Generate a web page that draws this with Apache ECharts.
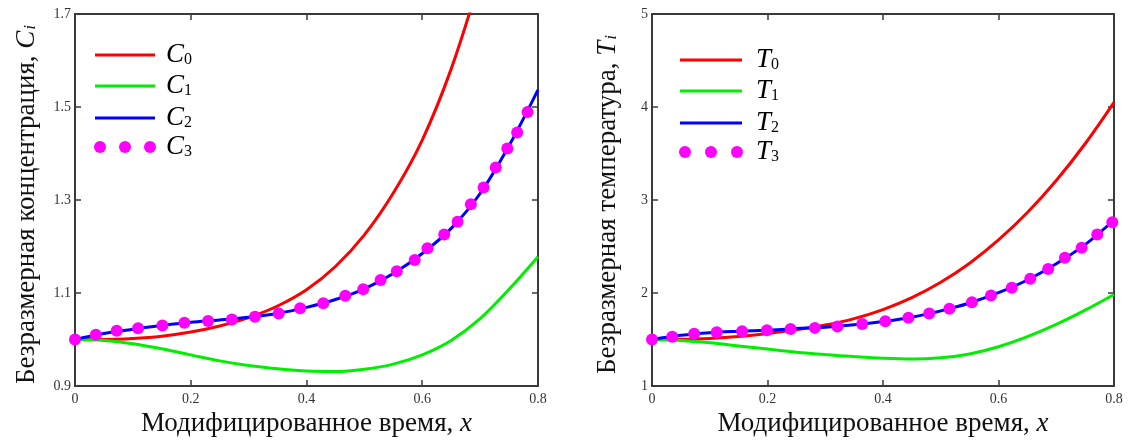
<!DOCTYPE html>
<html>
<head>
<meta charset="utf-8">
<script src="https://cdn.jsdelivr.net/npm/echarts@6/dist/echarts.min.js"></script>
<style>
html,body{margin:0;padding:0;background:#ffffff;}
#chart{width:1135px;height:444px;}
</style>
</head>
<body>
<div id="chart"></div>
<script>
// ---------- data ----------
const xGrid = [0, 0.05, 0.1, 0.15, 0.2, 0.25, 0.3, 0.35, 0.4, 0.45, 0.5, 0.55, 0.6, 0.65, 0.7, 0.75, 0.8];

// Left panel: concentration (C0 leaves the frame near x = 0.68)
const C0  = [1.000, 1.000, 1.002, 1.007, 1.016, 1.029, 1.047, 1.072, 1.107, 1.157, 1.225, 1.315, 1.429, 1.582, 1.777];
const C1  = [1.000, 0.998, 0.991, 0.980, 0.967, 0.954, 0.944, 0.937, 0.932, 0.931, 0.936, 0.947, 0.967, 0.998, 1.045, 1.108, 1.178];
const C2  = [1.000, 1.013, 1.022, 1.030, 1.037, 1.042, 1.048, 1.056, 1.069, 1.086, 1.109, 1.142, 1.185, 1.239, 1.314, 1.417, 1.537];
const C3x = [0, 0.036, 0.072, 0.109, 0.151, 0.189, 0.230, 0.271, 0.311, 0.352, 0.389, 0.429, 0.467, 0.498, 0.528, 0.556, 0.587, 0.609, 0.638, 0.661, 0.684, 0.706, 0.727, 0.747, 0.764, 0.782];
const C3  = [1.000, 1.010, 1.019, 1.024, 1.030, 1.036, 1.040, 1.043, 1.049, 1.056, 1.067, 1.078, 1.094, 1.108, 1.128, 1.147, 1.171, 1.196, 1.226, 1.253, 1.291, 1.327, 1.370, 1.411, 1.445, 1.489];

// Right panel: temperature
const T0  = [1.500, 1.502, 1.512, 1.533, 1.565, 1.605, 1.655, 1.725, 1.822, 1.950, 2.115, 2.320, 2.570, 2.865, 3.210, 3.605, 4.050];
const T1  = [1.500, 1.490, 1.466, 1.431, 1.397, 1.364, 1.338, 1.316, 1.298, 1.289, 1.303, 1.345, 1.422, 1.530, 1.662, 1.815, 1.984];
const T2  = [1.500, 1.545, 1.573, 1.588, 1.600, 1.617, 1.633, 1.658, 1.693, 1.740, 1.808, 1.893, 2.003, 2.140, 2.315, 2.520, 2.785];
const T3x = [0, 0.035, 0.073, 0.112, 0.156, 0.199, 0.240, 0.282, 0.321, 0.364, 0.404, 0.444, 0.480, 0.515, 0.554, 0.587, 0.623, 0.655, 0.686, 0.715, 0.744, 0.771, 0.797];
const T3  = [1.500, 1.530, 1.563, 1.578, 1.589, 1.600, 1.614, 1.625, 1.640, 1.666, 1.697, 1.733, 1.780, 1.830, 1.900, 1.973, 2.056, 2.153, 2.258, 2.378, 2.486, 2.629, 2.761];

// Tick labels
const xTicks  = [0, 0.2, 0.4, 0.6, 0.8];
const cTicks  = [0.9, 1.1, 1.3, 1.5, 1.7];
const tTicks  = [1, 2, 3, 4, 5];

const xTitle  = 'Модифицированное время, ';
const cTitle  = 'Безразмерная концентрация, ';
const tTitle  = 'Безразмерная температура, ';
const seriesIdx = ['0', '1', '2', '3'];
const colors = ['#ff0000', '#00ee00', '#0000ff', '#ff00ff'];

// ---------- helpers ----------
const FONT = '"Liberation Serif", "DejaVu Serif", serif';
const AX = '#3a3a3a';
const zip = (xs, ys) => ys.map((v, i) => [xs[i], v]);
const fmt = v => String(+(+v).toFixed(2));
const ext = t => ({min: t[0], max: t[t.length - 1], interval: +(t[1] - t[0]).toFixed(6)});

function valueAxis(ticks, opts) {
  const e = ext(ticks);
  return Object.assign({
    type: 'value', min: e.min, max: e.max, interval: e.interval,
    axisLine: {show: true, onZero: false, lineStyle: {color: AX, width: 2}},
    axisTick: {show: true, inside: true, length: 6, lineStyle: {color: AX, width: 1.5}},
    splitLine: {show: false},
    axisLabel: {show: true, fontFamily: FONT, fontSize: 14, color: '#333', formatter: fmt, showMinLabel: true, showMaxLabel: true}
  }, opts);
}
function hideLabels(a) { a.axisLabel = Object.assign({}, a.axisLabel, {show: false}); return a; }

const titleRich = {
  it: {fontFamily: FONT, fontSize: 27, fontStyle: 'italic', color: '#111'},
  sub: {fontFamily: FONT, fontSize: 17, fontStyle: 'italic', color: '#111', padding: [9, 0, 0, 1]}
};
const nameStyle = {fontFamily: FONT, fontSize: 27, color: '#111', rich: titleRich};
const yNameStyle = Object.assign({}, nameStyle, {padding: [0, 9, 0, 0]});

const grids = [
  {left: 75, top: 14, width: 463, height: 372},
  {left: 652, top: 14, width: 462, height: 372}
];

const xAxes = [], yAxes = [];
[0, 1].forEach(g => {
  xAxes.push(valueAxis(xTicks, {gridIndex: g, position: 'bottom',
    axisLabel: Object.assign({}, valueAxis(xTicks).axisLabel, {margin: 6}),
    name: xTitle + '{it|x}', nameLocation: 'middle', nameGap: 23, nameTextStyle: nameStyle}));
  xAxes.push(hideLabels(valueAxis(xTicks, {gridIndex: g, position: 'top'})));
  const yt = g === 0 ? cTicks : tTicks;
  const letter = g === 0 ? 'C' : 'T';
  yAxes.push(valueAxis(yt, {gridIndex: g, position: 'left',
    axisLabel: Object.assign({}, valueAxis(yt).axisLabel, {margin: 4}),
    name: (g === 0 ? cTitle : tTitle) + '{it|' + letter + '}{sub|i}', nameLocation: 'middle', nameRotate: 90,
    nameGap: g === 0 ? 35 : 31, nameTextStyle: yNameStyle}));
  yAxes.push(hideLabels(valueAxis(yt, {gridIndex: g, position: 'right'})));
});

function lineSeries(name, xs, ys, color, xi, yi) {
  return {name, type: 'line', xAxisIndex: xi, yAxisIndex: yi, data: zip(xs, ys),
    showSymbol: false, symbol: 'none', smooth: 0.35, clip: true,
    lineStyle: {color, width: 3}, z: 2};
}
function dotSeries(name, xs, ys, color, xi, yi) {
  return {name, type: 'scatter', xAxisIndex: xi, yAxisIndex: yi, data: zip(xs, ys),
    symbol: 'circle', symbolSize: 12, itemStyle: {color, opacity: 1}, z: 5};
}

const series = [
  lineSeries('C0', xGrid, C0, colors[0], 0, 0),
  lineSeries('C1', xGrid, C1, colors[1], 0, 0),
  lineSeries('C2', xGrid, C2, colors[2], 0, 0),
  dotSeries('C3', C3x, C3, colors[3], 0, 0),
  lineSeries('T0', xGrid, T0, colors[0], 2, 2),
  lineSeries('T1', xGrid, T1, colors[1], 2, 2),
  lineSeries('T2', xGrid, T2, colors[2], 2, 2),
  dotSeries('T3', T3x, T3, colors[3], 2, 2)
];

// ---------- legends (drawn as graphic keys) ----------
const legendRich = {
  l: {fontFamily: FONT, fontSize: 27, fontStyle: 'italic', color: '#111'},
  s: {fontFamily: FONT, fontSize: 16, color: '#111', padding: [9, 0, 0, 0]}
};
function legendGroup(letter, x0, x1, rows, textX) {
  const els = [];
  seriesIdx.forEach((k, i) => {
    const y = rows[i];
    if (i < 3) {
      els.push({type: 'line', shape: {x1: x0, y1: y, x2: x1, y2: y}, style: {stroke: colors[i], lineWidth: 3}});
    } else {
      [0, 0.5, 1].forEach(f => els.push({type: 'circle',
        shape: {cx: x0 + 5 + f * (x1 - x0 - 10), cy: y, r: 6}, style: {fill: colors[3]}}));
    }
    els.push({type: 'text', x: textX, y: y, style: {text: '{l|' + letter + '}{s|' + k + '}', rich: legendRich,
      verticalAlign: 'middle', align: 'left'}});
  });
  return els;
}

const option = {
  backgroundColor: '#ffffff',
  animation: false,
  grid: grids,
  xAxis: xAxes,
  yAxis: yAxes,
  series: series,
  graphic: [].concat(
    legendGroup('C', 95, 155, [55, 86, 118, 147], 166),
    legendGroup('T', 680, 742, [60, 91, 123, 152], 756)
  )
};

const chart = echarts.init(document.getElementById('chart'), null, {renderer: 'canvas'});
chart.setOption(option);
</script>
</body>
</html>
